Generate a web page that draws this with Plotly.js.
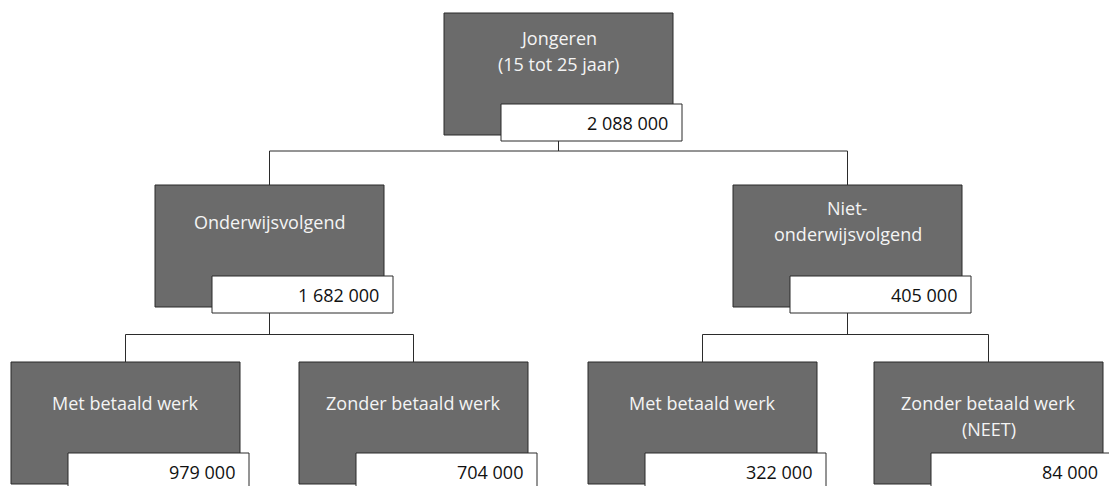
<!DOCTYPE html>
<html>
<head>
<meta charset="utf-8">
<script src="https://cdn.plot.ly/plotly-3.0.1.min.js"></script>
<style>html,body{margin:0;padding:0;background:#fff;}#chart{width:1109px;height:486px;}</style>
</head>
<body>
<div id="chart"></div>
<script>
// ---- data ----
var labels = ["Jongeren<br>(15 tot 25 jaar)", "Onderwijsvolgend", "Niet-<br>onderwijsvolgend",
              "Met betaald werk", "Zonder betaald werk", "Met betaald werk", "Zonder betaald werk<br>(NEET)"];
var values = [2088000, 1682000, 405000, 979000, 704000, 322000, 84000];
var parents = [-1, 0, 0, 1, 1, 2, 2];

// ---- layout (positions of the boxes, in pixels) ----
var boxLeft = [444, 155, 733, 11, 299, 588, 874];
var levelTop = [13, 185, 362];
var level = [0, 1, 1, 2, 2, 2, 2];
var labelOffset = [25, 37, 23, 41, 41, 41, 41]; // center of first text line below box top
var BW = 229, BH = 122, WX = 57, WY = 91, WW = 181, WH = 37, LINE = 26;

function fmt(v){ return String(v).replace(/\B(?=(\d{3})+(?!\d))/g, ' '); }

var shapes = [], annotations = [];
var grey = '#6b6b6b', edge = '#2b2b2b';
var fontFam = 'Open Sans, sans-serif';

for (var i = 0; i < labels.length; i++) {
  var x0 = boxLeft[i], y0 = levelTop[level[i]];
  shapes.push({type:'rect', xref:'x', yref:'y', x0:x0, x1:x0+BW, y0:y0, y1:y0+BH,
               fillcolor:grey, line:{color:edge, width:1}, layer:'above'});
  shapes.push({type:'rect', xref:'x', yref:'y', x0:x0+WX, x1:x0+WX+WW, y0:y0+WY, y1:y0+WY+WH,
               fillcolor:'#ffffff', line:{color:edge, width:1}, layer:'above'});
  var lines = labels[i].split('<br>');
  for (var k = 0; k < lines.length; k++) {
    annotations.push({xref:'x', yref:'y', x:x0+BW/2, y:y0+labelOffset[i]+k*LINE, text:lines[k],
      showarrow:false, xanchor:'center', yanchor:'middle', font:{family:fontFam, size:18, color:'#f4f4f4'}});
  }
  annotations.push({xref:'x', yref:'y', x:x0+WX+WW-12, y:y0+WY+WH/2, text:fmt(values[i]),
    showarrow:false, xanchor:'right', yanchor:'middle', font:{family:fontFam, size:18, color:'#111'}});
}

// connectors
for (var p = 0; p < labels.length; p++) {
  var kids = [];
  for (var c = 0; c < parents.length; c++) if (parents[c] === p) kids.push(c);
  if (!kids.length) continue;
  var px = boxLeft[p] + BW/2, pBottom = levelTop[level[p]] + WY + WH;
  var cTop = levelTop[level[kids[0]]];
  var midY = (pBottom + cTop) / 2 - 3;
  if (level[p] === 0) midY = pBottom + 10;
  shapes.push({type:'line', xref:'x', yref:'y', x0:px, x1:px, y0:pBottom, y1:midY, line:{color:edge, width:1}});
  var xs = kids.map(function(k){ return boxLeft[k] + BW/2; });
  shapes.push({type:'line', xref:'x', yref:'y', x0:Math.min.apply(null,xs), x1:Math.max.apply(null,xs), y0:midY, y1:midY, line:{color:edge, width:1}});
  xs.forEach(function(x){
    shapes.push({type:'line', xref:'x', yref:'y', x0:x, x1:x, y0:midY, y1:cTop, line:{color:edge, width:1}});
  });
}

var layout = {
  width:1109, height:486, margin:{l:0, r:0, t:0, b:0},
  paper_bgcolor:'#ffffff', plot_bgcolor:'#ffffff',
  xaxis:{range:[0,1109], visible:false, fixedrange:true},
  yaxis:{range:[486,0], visible:false, fixedrange:true},
  shapes:shapes, annotations:annotations, showlegend:false
};
Plotly.newPlot('chart', [], layout, {staticPlot:true, displayModeBar:false});
</script>
</body>
</html>
